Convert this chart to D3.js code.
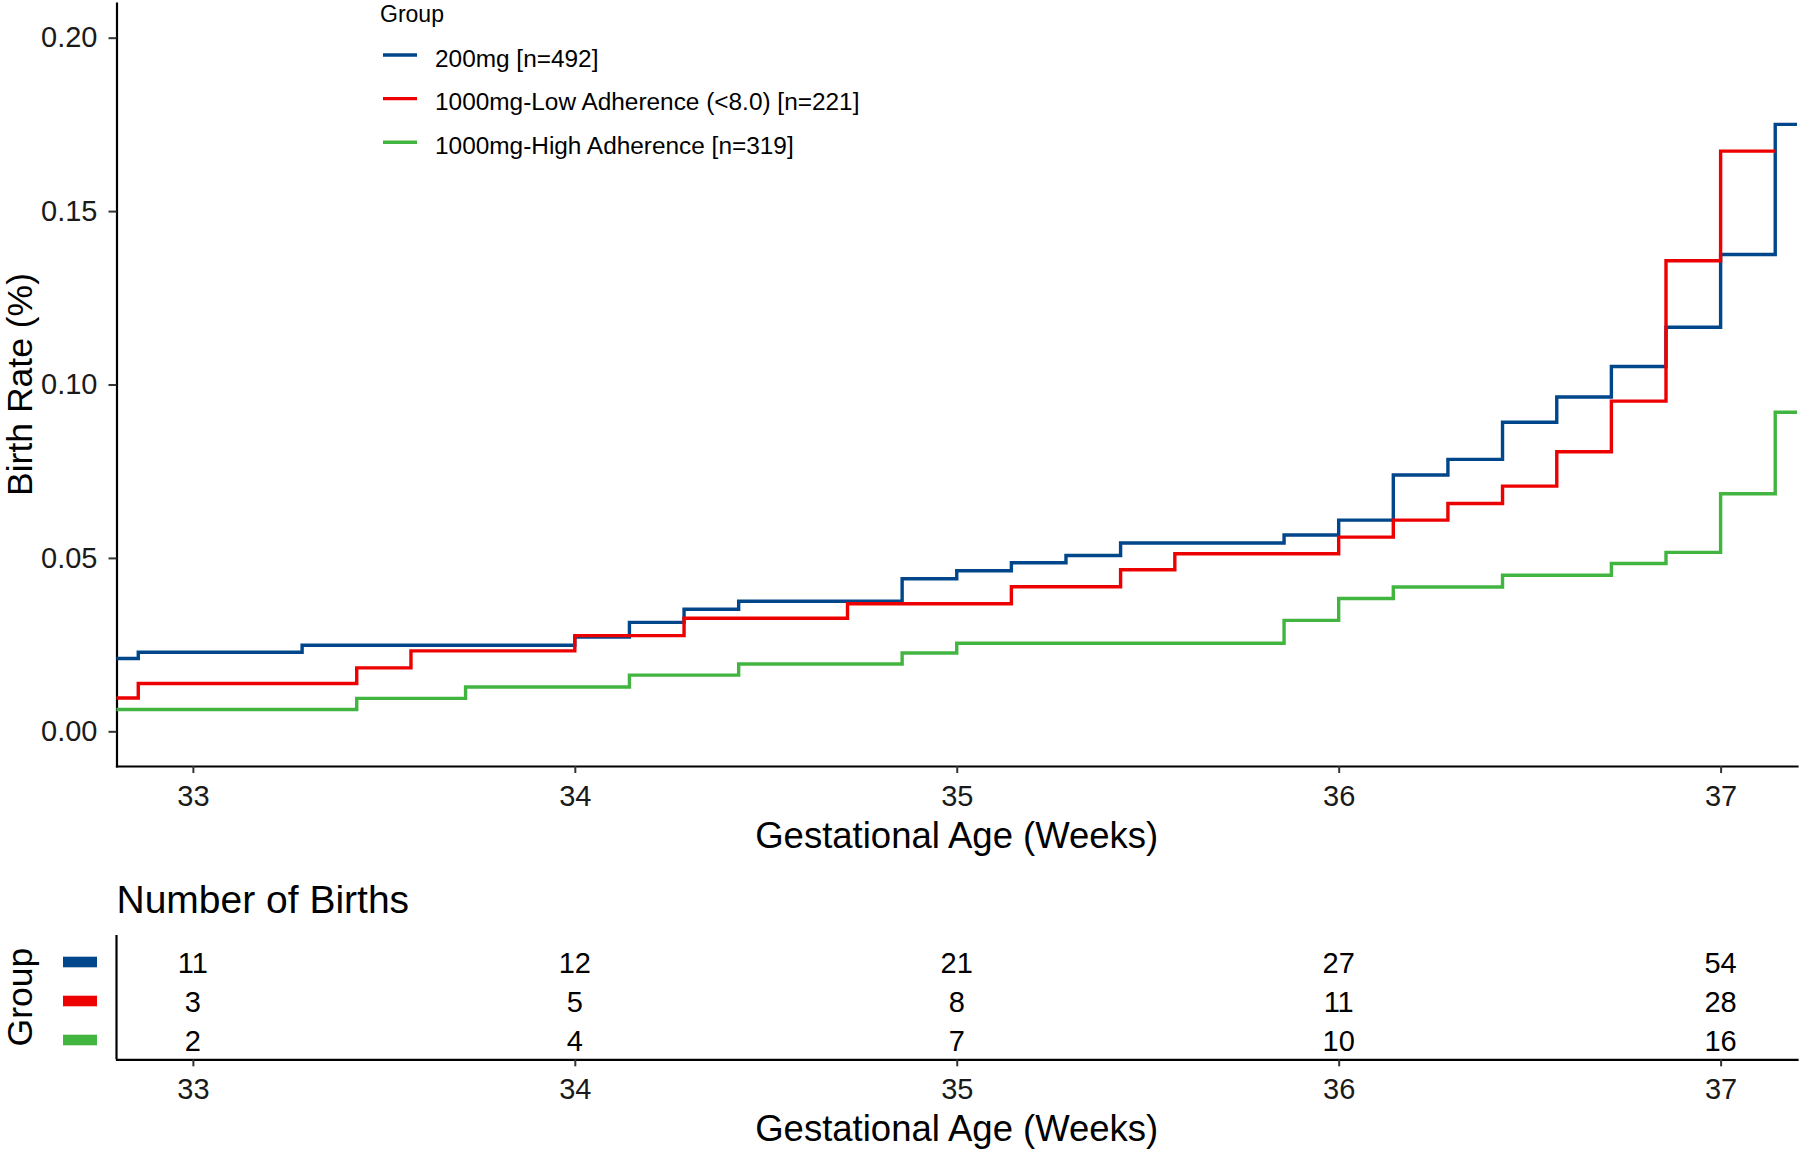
<!DOCTYPE html>
<html>
<head>
<meta charset="utf-8">
<script src="https://cdn.jsdelivr.net/npm/d3@7"></script>
<style>
  html, body { margin: 0; padding: 0; background: #fff; }
  svg { display: block; font-family: "Liberation Sans", Arial, sans-serif; }
</style>
</head>
<body>
<svg id="chart" width="1800" height="1150"></svg>
<script>
// ---------------- DATA ----------------
const groups = ["200mg [n=492]", "1000mg-Low Adherence (<8.0) [n=221]", "1000mg-High Adherence [n=319]"];
const groupColors = ["#00468B", "#ED0000", "#42B540"];

// step times (weeks) and cumulative birth rate after each step
const blueTimes  = [32.714, 32.857, 33.286, 34.0, 34.143, 34.286, 34.429, 34.857, 35.0, 35.143, 35.286, 35.429, 35.857, 36.0, 36.143, 36.286, 36.429, 36.571, 36.714, 36.857, 37.0, 37.143];
const blueValues = [0.0210, 0.0228, 0.0248, 0.0272, 0.0314, 0.0352, 0.0375, 0.0440, 0.0463, 0.0486, 0.0507, 0.0543, 0.0566, 0.0609, 0.0739, 0.0784, 0.0891, 0.0964, 0.1052, 0.1165, 0.1375, 0.1750];
const blueEnd = 37.286;

const redTimes  = [32.714, 32.857, 33.429, 33.571, 34.0, 34.286, 34.714, 35.143, 35.429, 35.571, 36.0, 36.143, 36.286, 36.429, 36.571, 36.714, 36.857, 37.0];
const redValues = [0.0096, 0.0138, 0.0183, 0.0232, 0.0276, 0.0326, 0.0368, 0.0417, 0.0466, 0.0512, 0.0560, 0.0609, 0.0657, 0.0707, 0.0806, 0.0952, 0.1357, 0.1673];
const redEnd = 37.143;

const greenTimes  = [32.714, 33.429, 33.714, 34.143, 34.429, 34.857, 35.0, 35.857, 36.0, 36.143, 36.429, 36.714, 36.857, 37.0, 37.143];
const greenValues = [0.0063, 0.0095, 0.0128, 0.0162, 0.0194, 0.0226, 0.0254, 0.0320, 0.0383, 0.0416, 0.0450, 0.0484, 0.0516, 0.0685, 0.0920];
const greenEnd = 37.286;

// risk-table: number of births at each tick
const tableWeeks  = [33, 34, 35, 36, 37];
const blueBirths  = [11, 12, 21, 27, 54];
const redBirths   = [3, 5, 8, 11, 28];
const greenBirths = [2, 4, 7, 10, 16];

const xTicks = [33, 34, 35, 36, 37];
const yTicks = [0.00, 0.05, 0.10, 0.15, 0.20];

const xTitle = "Gestational Age (Weeks)";
const yTitle = "Birth Rate (%)";
const legendTitle = "Group";
const tableTitle = "Number of Births";
const tableYTitle = "Group";

// ---------------- LAYOUT ----------------
const svg = d3.select("#chart");
const FONT = '"Liberation Sans", Arial, sans-serif';
const plotL = 116.5, plotR = 1797, plotT = 3, plotB = 766;
const tabT = 935, tabB = 1059.3;

const x = d3.scaleLinear().domain([32.8, 37.2]).range([plotL, plotR]);
const y = d3.scaleLinear().domain([-0.01, 0.21]).range([plotB, plotT]);

// clip
svg.append("defs").append("clipPath").attr("id", "clip")
  .append("rect").attr("x", plotL).attr("y", plotT - 2)
  .attr("width", plotR - plotL).attr("height", plotB - plotT + 2);

// ---------------- MAIN AXES ----------------
const yAxis = d3.axisLeft(y).tickValues(yTicks).tickFormat(d3.format(".2f"))
  .tickSize(8).tickSizeOuter(0).tickPadding(11);
const gy = svg.append("g").attr("transform", `translate(${plotL},0)`).call(yAxis);

const xAxis = d3.axisBottom(x).tickValues(xTicks).tickFormat(d3.format("d"))
  .tickSize(7).tickSizeOuter(0).tickPadding(12.5);
const gx = svg.append("g").attr("transform", `translate(0,${plotB})`).call(xAxis);

[gx, gy].forEach(g => {
  g.select(".domain").attr("stroke", "#000").attr("stroke-width", 2.2).attr("stroke-linecap", "square");
  g.selectAll(".tick line").attr("stroke", "#333").attr("stroke-width", 2);
  g.selectAll(".tick text").attr("fill", "#1a1a1a").style("font-family", FONT).style("font-size", "29px");
});

// ---------------- CURVES ----------------
const series = [
  {times: blueTimes, values: blueValues, end: blueEnd, color: groupColors[0]},
  {times: redTimes, values: redValues, end: redEnd, color: groupColors[1]},
  {times: greenTimes, values: greenValues, end: greenEnd, color: groupColors[2]}
];
const stepLine = d3.line().x(d => x(d[0])).y(d => y(d[1])).curve(d3.curveStepAfter);
const gLines = svg.append("g").attr("clip-path", "url(#clip)");
series.forEach(s => {
  const pts = s.times.map((t, i) => [t, s.values[i]]);
  pts.push([s.end, s.values[s.values.length - 1]]);
  gLines.append("path").datum(pts)
    .attr("d", stepLine)
    .attr("fill", "none")
    .attr("stroke", s.color)
    .attr("stroke-width", 3.4)
    .attr("stroke-linejoin", "miter");
});

// axis titles
svg.append("text").attr("x", (plotL + plotR) / 2).attr("y", 848)
  .attr("text-anchor", "middle").style("font-size", "36.5px").attr("fill", "#000").text(xTitle);
svg.append("text").attr("transform", `translate(32,${(plotT + plotB) / 2}) rotate(-90)`)
  .attr("text-anchor", "middle").style("font-size", "35.5px").attr("fill", "#000").text(yTitle);

// ---------------- LEGEND ----------------
const legend = svg.append("g");
legend.append("text").attr("x", 380).attr("y", 21.5).style("font-size", "23px").attr("fill", "#000").text(legendTitle);
const legY = d3.scalePoint().domain(groups).range([55, 142.3]);
groups.forEach((gname, i) => {
  legend.append("line").attr("x1", 383).attr("x2", 417)
    .attr("y1", legY(gname)).attr("y2", legY(gname))
    .attr("stroke", groupColors[i]).attr("stroke-width", 3.4);
  legend.append("text").attr("x", 435).attr("y", legY(gname) + 11.5)
    .style("font-size", "24.4px").attr("fill", "#000").text(gname);
});

// ---------------- RISK TABLE ----------------
svg.append("text").attr("x", plotL).attr("y", 913).style("font-size", "39px").attr("fill", "#000").text(tableTitle);

const rowY = d3.scalePoint().domain(groups).range([962, 1040]);
const tx = svg.append("g").attr("transform", `translate(0,${tabB})`)
  .call(d3.axisBottom(x).tickValues(xTicks).tickFormat(d3.format("d")).tickSize(7).tickSizeOuter(0).tickPadding(12));
tx.select(".domain").attr("stroke", "#000").attr("stroke-width", 2.2).attr("stroke-linecap", "square");
tx.selectAll(".tick line").attr("stroke", "#333").attr("stroke-width", 2);
tx.selectAll(".tick text").attr("fill", "#1a1a1a").style("font-family", FONT).style("font-size", "29px");

svg.append("line").attr("x1", plotL).attr("x2", plotL).attr("y1", tabT).attr("y2", tabB)
  .attr("stroke", "#000").attr("stroke-width", 2.2);

const birthRows = [blueBirths, redBirths, greenBirths];
groups.forEach((gname, i) => {
  svg.append("rect").attr("x", 63).attr("y", rowY(gname) - 5.3).attr("width", 34).attr("height", 10.6)
    .attr("fill", groupColors[i]);
  birthRows[i].forEach((n, j) => {
    svg.append("text").attr("x", x(tableWeeks[j])).attr("y", rowY(gname) + 10.5)
      .attr("text-anchor", "middle").style("font-size", "29px").attr("fill", "#000").text(n);
  });
});

svg.append("text").attr("x", (plotL + plotR) / 2).attr("y", 1141)
  .attr("text-anchor", "middle").style("font-size", "36.5px").attr("fill", "#000").text(xTitle);
svg.append("text").attr("transform", `translate(32,${(tabT + tabB) / 2}) rotate(-90)`)
  .attr("text-anchor", "middle").style("font-size", "35.5px").attr("fill", "#000").text(tableYTitle);
</script>
</body>
</html>
